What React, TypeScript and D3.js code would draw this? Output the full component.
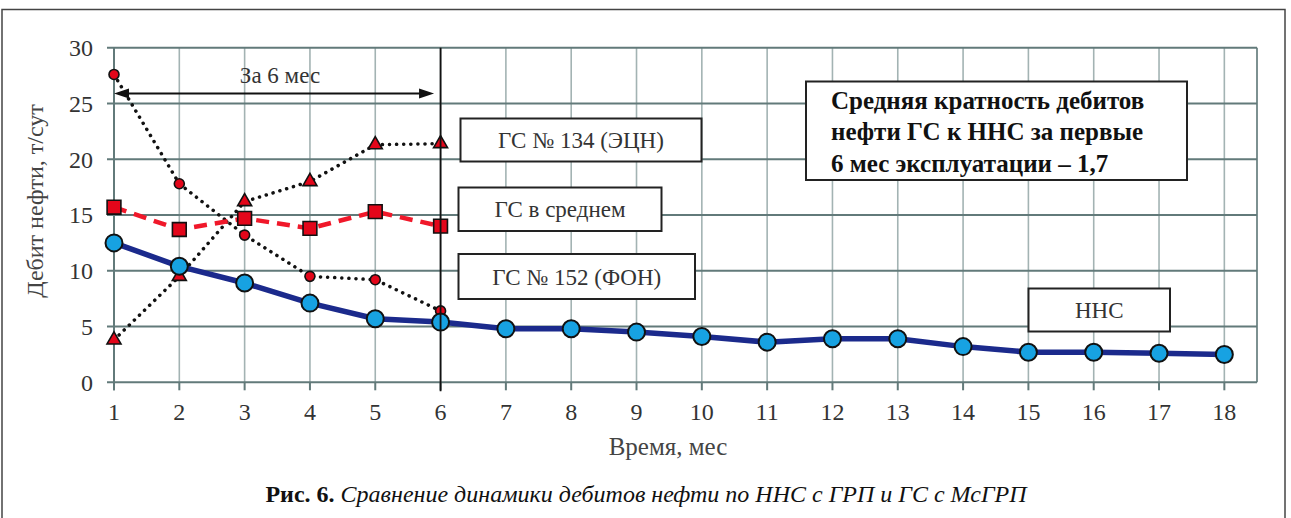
import React, { useEffect, useRef } from "react";
import * as d3 from "d3";

// months on the x axis
const months = [1, 2, 3, 4, 5, 6, 7, 8, 9, 10, 11, 12, 13, 14, 15, 16, 17, 18];
const gsMonths = [1, 2, 3, 4, 5, 6];

// oil rate, t/day
const nnsValues = [12.5, 10.4, 8.9, 7.1, 5.7, 5.4, 4.8, 4.8, 4.5, 4.1, 3.6, 3.9, 3.9, 3.2, 2.7, 2.7, 2.6, 2.5];
const gsAvgValues = [15.7, 13.7, 14.7, 13.8, 15.3, 14.0];
const gs134Values = [3.8, 9.5, 16.2, 18.0, 21.3, 21.4];
const gs152Values = [27.6, 17.8, 13.2, 9.5, 9.2, 6.4];

const yTicks = [0, 5, 10, 15, 20, 25, 30];

const FONT = "Liberation Serif";

export default function App() {
  const ref = useRef<SVGSVGElement>(null);

  useEffect(() => {
    const svg = d3.select(ref.current);
    svg.selectAll("*").remove();

    const x = d3.scaleLinear().domain([1, 18.5]).range([114, 1257]);
    const y = d3.scaleLinear().domain([0, 30]).range([382.3, 47.7]);

    // outer frame
    svg.append("rect")
      .attr("x", 2).attr("y", 9.5).attr("width", 1283).attr("height", 520)
      .attr("fill", "white").attr("stroke", "#444").attr("stroke-width", 1.5);

    const g = svg.append("g").attr("font-family", FONT);

    // vertical grid
    g.selectAll(".vgrid")
      .data(months.slice(1))
      .join("line")
      .attr("x1", (d) => x(d)).attr("x2", (d) => x(d))
      .attr("y1", y(30)).attr("y2", y(0))
      .attr("stroke", "#a3b3b3").attr("stroke-width", 1.6);

    // right border
    g.append("line")
      .attr("x1", x(18.5)).attr("x2", x(18.5)).attr("y1", y(30)).attr("y2", y(0))
      .attr("stroke", "#6f8585").attr("stroke-width", 1.8);

    // horizontal grid
    g.selectAll(".hgrid")
      .data(yTicks)
      .join("line")
      .attr("x1", x(1) - 7).attr("x2", x(18.5))
      .attr("y1", (d) => y(d)).attr("y2", (d) => y(d))
      .attr("stroke", "#627a7a").attr("stroke-width", 2);

    // left axis
    g.append("line")
      .attr("x1", x(1)).attr("x2", x(1)).attr("y1", y(30)).attr("y2", y(0) + 8)
      .attr("stroke", "#627a7a").attr("stroke-width", 2);

    // x ticks
    g.selectAll(".xtick")
      .data(months)
      .join("line")
      .attr("x1", (d) => x(d)).attr("x2", (d) => x(d))
      .attr("y1", y(0)).attr("y2", y(0) + 8)
      .attr("stroke", "#627a7a").attr("stroke-width", 2);

    // tick labels
    g.selectAll(".ylab")
      .data(yTicks)
      .join("text")
      .attr("x", 93).attr("y", (d) => y(d))
      .attr("dy", "0.35em")
      .attr("text-anchor", "end")
      .attr("font-size", 24).attr("fill", "#333")
      .text((d) => d);

    g.selectAll(".xlab")
      .data(months)
      .join("text")
      .attr("x", (d) => x(d)).attr("y", 412)
      .attr("dy", "0.35em")
      .attr("text-anchor", "middle")
      .attr("font-size", 24).attr("fill", "#333")
      .text((d) => d);

    // axis titles
    g.append("text")
      .attr("transform", "translate(35,201) rotate(-90)")
      .attr("dy", "0.35em")
      .attr("text-anchor", "middle")
      .attr("font-size", 24).attr("fill", "#444")
      .text("Дебит нефти, т/сут");

    g.append("text")
      .attr("x", 668).attr("y", 446)
      .attr("dy", "0.35em")
      .attr("text-anchor", "middle")
      .attr("font-size", 25).attr("fill", "#444")
      .text("Время, мес");

    // caption
    const cap = g.append("text")
      .attr("x", 646).attr("y", 494)
      .attr("dy", "0.35em")
      .attr("text-anchor", "middle")
      .attr("font-size", 24).attr("fill", "#111");
    cap.append("tspan").attr("font-weight", "bold").text("Рис. 6. ");
    cap.append("tspan").attr("font-style", "italic")
      .text("Сравнение динамики дебитов нефти по ННС с ГРП и ГС с МсГРП");

    // lines
    const line = d3.line<[number, number]>()
      .x((d) => x(d[0]))
      .y((d) => y(d[1]));

    const nns = months.map((m, i) => [m, nnsValues[i]] as [number, number]);
    const gsAvg = gsMonths.map((m, i) => [m, gsAvgValues[i]] as [number, number]);
    const gs134 = gsMonths.map((m, i) => [m, gs134Values[i]] as [number, number]);
    const gs152 = gsMonths.map((m, i) => [m, gs152Values[i]] as [number, number]);

    const dotted = (data: [number, number][]) =>
      g.append("path")
        .attr("d", line(data))
        .attr("fill", "none")
        .attr("stroke", "#111")
        .attr("stroke-width", 3.5)
        .attr("stroke-linecap", "round")
        .attr("stroke-dasharray", "0.1,7");

    dotted(gs152);
    dotted(gs134);

    g.append("path")
      .attr("d", line(gsAvg))
      .attr("fill", "none")
      .attr("stroke", "#f0182a")
      .attr("stroke-width", 4.5)
      .attr("stroke-dasharray", "13,8");

    g.append("path")
      .attr("d", line(nns))
      .attr("fill", "none")
      .attr("stroke", "#1b2a8c")
      .attr("stroke-width", 5.5)
      .attr("stroke-linejoin", "round");

    // markers
    g.selectAll(".m152")
      .data(gs152)
      .join("circle")
      .attr("cx", (d) => x(d[0])).attr("cy", (d) => y(d[1]))
      .attr("r", 5)
      .attr("fill", "#e3061a").attr("stroke", "#111").attr("stroke-width", 1.6);

    g.selectAll(".m134")
      .data(gs134)
      .join("path")
      .attr("transform", (d) => `translate(${x(d[0])},${y(d[1])})`)
      .attr("d", d3.symbol().type(d3.symbolTriangle).size(85)())
      .attr("fill", "#e3061a").attr("stroke", "#111").attr("stroke-width", 1.6);

    g.selectAll(".mavg")
      .data(gsAvg)
      .join("path")
      .attr("transform", (d) => `translate(${x(d[0])},${y(d[1])})`)
      .attr("d", d3.symbol().type(d3.symbolSquare).size(190)())
      .attr("fill", "#e3061a").attr("stroke", "#111").attr("stroke-width", 1.6);

    g.selectAll(".mnns")
      .data(nns)
      .join("circle")
      .attr("cx", (d) => x(d[0])).attr("cy", (d) => y(d[1]))
      .attr("r", 8.5)
      .attr("fill", "#17a2e2").attr("stroke", "#111").attr("stroke-width", 2);

    // 6-month marker line
    g.append("line")
      .attr("x1", x(6)).attr("x2", x(6)).attr("y1", y(30)).attr("y2", y(0) + 9)
      .attr("stroke", "#111").attr("stroke-width", 1.8);

    // arrow "За 6 мес"
    const ay = y(25.9);
    const ax0 = x(1);
    const ax1 = x(5.9);
    g.append("line")
      .attr("x1", ax0 + 8).attr("x2", ax1 - 8).attr("y1", ay).attr("y2", ay)
      .attr("stroke", "#111").attr("stroke-width", 2);
    g.append("path")
      .attr("d", `M${ax0},${ay} L${ax0 + 15},${ay - 5} L${ax0 + 15},${ay + 5} Z`)
      .attr("fill", "#111");
    g.append("path")
      .attr("d", `M${ax1},${ay} L${ax1 - 15},${ay - 5} L${ax1 - 15},${ay + 5} Z`)
      .attr("fill", "#111");
    g.append("text")
      .attr("x", 280).attr("y", y(27.6))
      .attr("dy", "0.35em")
      .attr("text-anchor", "middle")
      .attr("font-size", 23).attr("fill", "#333")
      .text("За 6 мес");

    // label boxes
    const boxes = [
      { x0: 460.5, y0: 118.5, x1: 701.5, y1: 161.5, label: "ГС № 134 (ЭЦН)" },
      { x0: 458.5, y0: 187.5, x1: 661.5, y1: 231, label: "ГС в среднем" },
      { x0: 458.5, y0: 254, x1: 695, y1: 299, label: "ГС № 152 (ФОН)" },
      { x0: 1028.5, y0: 288.5, x1: 1170, y1: 331.5, label: "ННС" },
    ];
    const bg = g.selectAll(".box").data(boxes).join("g");
    bg.append("rect")
      .attr("x", (d) => d.x0).attr("y", (d) => d.y0)
      .attr("width", (d) => d.x1 - d.x0).attr("height", (d) => d.y1 - d.y0)
      .attr("fill", "white").attr("stroke", "#222").attr("stroke-width", 2);
    bg.append("text")
      .attr("x", (d) => (d.x0 + d.x1) / 2).attr("y", (d) => (d.y0 + d.y1) / 2)
      .attr("dy", "0.35em")
      .attr("text-anchor", "middle")
      .attr("font-size", 23).attr("fill", "#333")
      .text((d) => d.label);

    // summary box
    g.append("rect")
      .attr("x", 806).attr("y", 81.5).attr("width", 381).attr("height", 98.5)
      .attr("fill", "white").attr("stroke", "#222").attr("stroke-width", 2);
    const summary = [
      "Средняя кратность дебитов",
      "нефти ГС к ННС за первые",
      "6 мес эксплуатации – 1,7",
    ];
    g.selectAll(".sum")
      .data(summary)
      .join("text")
      .attr("x", 831).attr("y", (_, i) => 100 + i * 31.5)
      .attr("dy", "0.35em")
      .attr("font-size", 25).attr("font-weight", "bold")
      .attr("fill", "#111")
      .text((d) => d);
  }, []);

  return (
    <svg
      ref={ref}
      width={1291}
      height={518}
      style={{ position: "absolute", left: 0, top: 0, background: "white" }}
    />
  );
}
